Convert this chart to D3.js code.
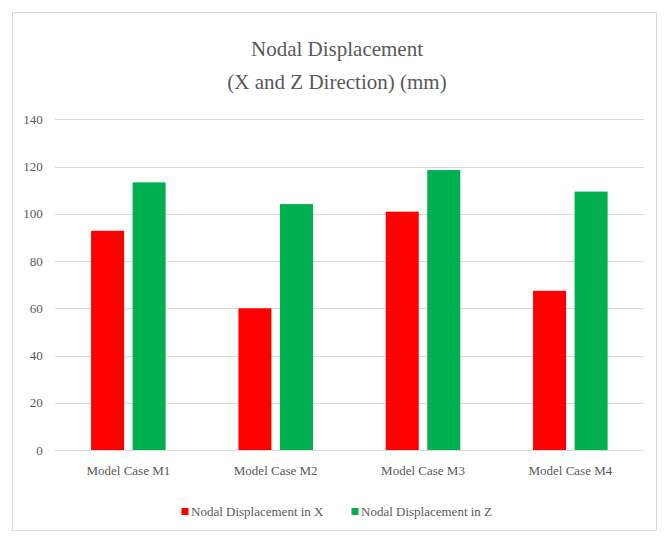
<!DOCTYPE html>
<html>
<head>
<meta charset="utf-8">
<script src="https://cdn.jsdelivr.net/npm/d3@7"></script>
<style>
  html, body { margin: 0; padding: 0; background: #fff; }
  svg { display: block; }
</style>
</head>
<body>
<svg id="chart" width="667" height="538"></svg>
<script>
const categories = ["Model Case M1", "Model Case M2", "Model Case M3", "Model Case M4"];
const seriesNames = ["Nodal Displacement in X", "Nodal Displacement in Z"];
const dispX = [92.8, 60.0, 100.9, 67.4];
const dispZ = [113.3, 104.1, 118.5, 109.4];
const yTicks = [0, 20, 40, 60, 80, 100, 120, 140];
const titleLines = ["Nodal Displacement", "(X and Z Direction) (mm)"];
const colors = ["#FF0000", "#00B050"];

const FONT = "'Liberation Serif', 'Times New Roman', serif";
const svg = d3.select("#chart");
const plot = { left: 54.7, right: 644, top: 119.3, bottom: 450 };

// Frame
svg.append("rect")
  .attr("x", 12.5).attr("y", 12.5)
  .attr("width", 644).attr("height", 518)
  .attr("fill", "#fff").attr("stroke", "#d9d9d9").attr("stroke-width", 1);

// Title
svg.append("g").selectAll("text").data(titleLines).join("text")
  .attr("x", 337).attr("y", (d, i) => 56 + i * 33)
  .attr("text-anchor", "middle")
  .style("font-family", FONT)
  .style("font-size", "21px")
  .attr("fill", "#595959")
  .text(d => d);

const y = d3.scaleLinear().domain([0, 140]).range([plot.bottom, plot.top]);
const x0 = d3.scaleBand().domain(categories).range([plot.left, plot.right])
  .paddingInner(0.494).paddingOuter(0.247);
const x1 = d3.scaleBand().domain([0, 1]).range([0, x0.bandwidth()])
  .paddingInner(0.205).paddingOuter(0);

// Gridlines
svg.append("g").selectAll("line").data(yTicks).join("line")
  .attr("x1", plot.left).attr("x2", plot.right)
  .attr("y1", d => Math.round(y(d)) + 0.5).attr("y2", d => Math.round(y(d)) + 0.5)
  .attr("stroke", "#d9d9d9").attr("stroke-width", 1);

// Y axis labels
const yAxis = d3.axisLeft(y).tickValues(yTicks).tickSize(0).tickPadding(0);
const yg = svg.append("g").attr("transform", `translate(${plot.left - 12},0)`).call(yAxis);
yg.select(".domain").remove();
yg.selectAll("text")
  .style("font-family", FONT)
  .style("font-size", "13px").attr("fill", "#595959");

// Bars
const data = categories.map((c, i) => ({ cat: c, vals: [dispX[i], dispZ[i]] }));
const groups = svg.append("g").selectAll("g").data(data).join("g")
  .attr("transform", d => `translate(${x0(d.cat)},0)`);
groups.selectAll("rect").data(d => d.vals.map((v, k) => ({ v, k }))).join("rect")
  .attr("x", d => x1(d.k))
  .attr("width", x1.bandwidth())
  .attr("y", d => y(d.v))
  .attr("height", d => y(0) - y(d.v))
  .attr("fill", d => colors[d.k]);

// X axis labels
const xAxis = d3.axisBottom(x0).tickSize(0).tickPadding(0);
const xg = svg.append("g").attr("transform", `translate(0,${plot.bottom + 16})`).call(xAxis);
xg.select(".domain").remove();
xg.selectAll("text")
  .style("font-family", FONT)
  .style("font-size", "13px").attr("fill", "#595959");

// Legend
const legendX = [181.5, 351.5];
const lg = svg.append("g").selectAll("g").data(seriesNames).join("g")
  .attr("transform", (d, i) => `translate(${legendX[i]},508)`);
lg.append("rect").attr("width", 7).attr("height", 7).attr("fill", (d, i) => colors[i]);
lg.append("text").attr("x", 9.5).attr("y", 8)
  .style("font-family", FONT)
  .style("font-size", "13px").attr("fill", "#595959")
  .text(d => d);
</script>
</body>
</html>
